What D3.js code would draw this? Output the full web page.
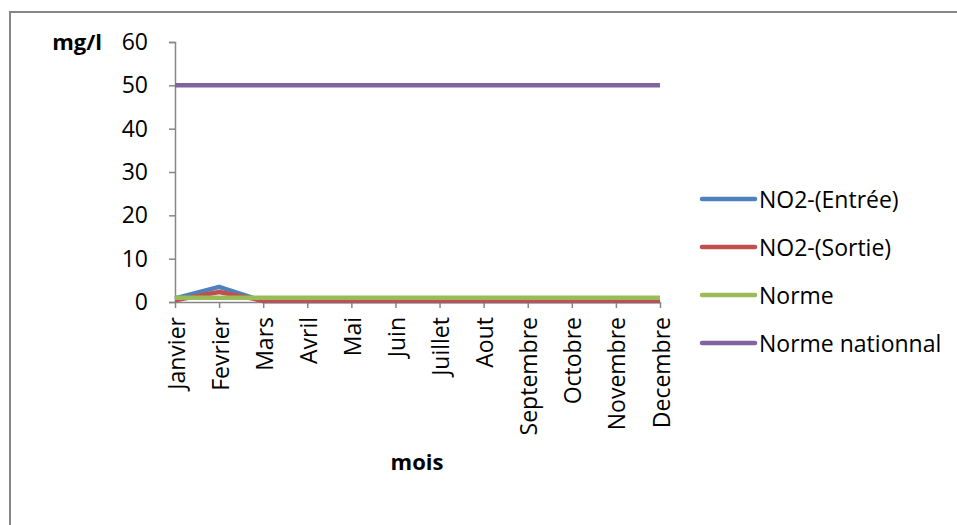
<!DOCTYPE html>
<html>
<head>
<meta charset="utf-8">
<script src="https://cdn.jsdelivr.net/npm/d3@7"></script>
<style>
  html, body { margin: 0; padding: 0; background: #fff; }
  svg { display: block; }
  text { font-family: "Open Sans", Lato, sans-serif; fill: #000; }
</style>
</head>
<body>
<svg id="chart" width="957" height="525"></svg>
<script>
// Monthly NO2 concentrations (mg/l)
const months = ["Janvier", "Fevrier", "Mars", "Avril", "Mai", "Juin", "Juillet",
                "Aout", "Septembre", "Octobre", "Novembre", "Decembre"];
const entree = [0.8, 3.5, 0.2, 0.2, 0.2, 0.2, 0.2, 0.2, 0.2, 0.2, 0.2, 0.2];
const sortie = [0.4, 2.3, 0.3, 0.3, 0.3, 0.3, 0.3, 0.3, 0.3, 0.3, 0.3, 0.3];
const norme = [1, 1, 1, 1, 1, 1, 1, 1, 1, 1, 1, 1];
const normeNational = [50, 50, 50, 50, 50, 50, 50, 50, 50, 50, 50, 50];
const yTicks = [0, 10, 20, 30, 40, 50, 60];

const seriesNames = ["NO2-(Entrée)", "NO2-(Sortie)", "Norme", "Norme nationnal"];
const seriesValues = [entree, sortie, norme, normeNational];
const seriesColors = ["#4F81BD", "#C0504D", "#9BBB59", "#8064A2"];

const FONT = "'Open Sans', Lato, sans-serif";
const FS = 23;

const svg = d3.select("#chart");
const axisColor = "#868686";

// outer chart frame (left and top edges fall inside the view)
svg.append("rect")
  .attr("x", 10).attr("y", 12)
  .attr("width", 960).attr("height", 530)
  .attr("fill", "none")
  .attr("stroke", axisColor)
  .attr("stroke-width", 2);

const plot = { left: 175, right: 660, top: 42, bottom: 302 };

const x = d3.scalePoint().domain(months).range([plot.left, plot.right]);
const y = d3.scaleLinear().domain([0, 60]).range([plot.bottom, plot.top]);

// y axis
const yAxis = svg.append("g")
  .attr("transform", `translate(${plot.left},0)`)
  .call(d3.axisLeft(y).tickValues(yTicks).tickSize(6).tickPadding(21).tickFormat(d3.format("d")));
yAxis.select(".domain").attr("stroke", axisColor).attr("stroke-width", 1.5);
yAxis.selectAll(".tick line").attr("stroke", axisColor).attr("stroke-width", 1.5);
yAxis.selectAll(".tick text").attr("font-size", FS).attr("font-family", FONT).attr("fill", "#000");

// x axis
const xAxis = svg.append("g")
  .attr("transform", `translate(0,${plot.bottom})`)
  .call(d3.axisBottom(x).tickSizeInner(6).tickSizeOuter(0));
xAxis.select(".domain").attr("stroke", axisColor).attr("stroke-width", 1.5);
xAxis.selectAll(".tick line").attr("stroke", axisColor).attr("stroke-width", 1.5);
xAxis.selectAll(".tick text")
  .attr("font-size", FS)
  .attr("font-family", FONT)
  .attr("fill", "#000")
  .attr("text-anchor", "end")
  .attr("dominant-baseline", "central")
  .attr("transform", "rotate(-90)")
  .attr("x", -15)
  .attr("y", 0)
  .attr("dy", null);

// series lines
const line = d3.line()
  .x((d, i) => x(months[i]))
  .y(d => y(d));

seriesValues.forEach((vals, k) => {
  svg.append("path")
    .datum(vals)
    .attr("fill", "none")
    .attr("stroke", seriesColors[k])
    .attr("stroke-width", 4.5)
    .attr("stroke-linejoin", "round")
    .attr("d", line);
});

// axis titles
svg.append("text")
  .attr("x", 102).attr("y", 50)
  .attr("text-anchor", "end")
  .attr("font-size", 22).attr("font-weight", "bold")
  .text("mg/l");

svg.append("text")
  .attr("x", 417).attr("y", 470)
  .attr("text-anchor", "middle")
  .attr("font-size", 22).attr("font-weight", "bold")
  .text("mois");

// legend
const legend = svg.append("g");
seriesNames.forEach((name, k) => {
  const ly = 199 + k * 48;
  legend.append("line")
    .attr("x1", 702).attr("x2", 755)
    .attr("y1", ly).attr("y2", ly)
    .attr("stroke", seriesColors[k])
    .attr("stroke-width", 4.5)
    .attr("stroke-linecap", "round");
  legend.append("text")
    .attr("x", 759).attr("y", ly)
    .attr("dominant-baseline", "central")
    .attr("font-size", FS)
    .text(name);
});
</script>
</body>
</html>
